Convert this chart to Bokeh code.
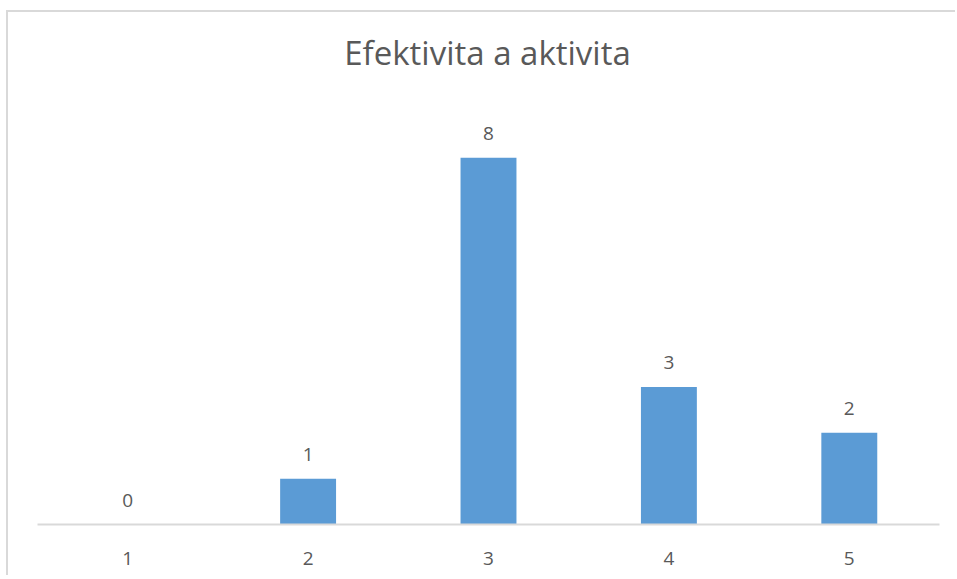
from bokeh.plotting import figure
from bokeh.models import ColumnDataSource, LabelSet, FactorRange, Range1d, Label
from bokeh.core.properties import value
from bokeh.embed import file_html
from bokeh.resources import INLINE

title_text = "Efektivita a aktivita"
categories = ["1", "2", "3", "4", "5"]
values = [0, 1, 8, 3, 2]
labels = [str(v) for v in values]

# the frame extends up to the top of the chart so the title can sit inside it
y_max = 10.95

src = ColumnDataSource(dict(cat=categories, val=values, lab=labels))

p = figure(
    width=949, height=565,
    x_range=FactorRange(*categories, range_padding=0),
    y_range=Range1d(0, y_max),
    output_backend="svg", toolbar_location=None,
    min_border_left=29, min_border_right=18,
    min_border_top=10, min_border_bottom=53,
)
p.styles = {"margin-left": "6px", "margin-top": "10px",
            "border-left": "2px solid #d9d9d9", "border-top": "2px solid #d9d9d9"}

p.vbar(x="cat", top="val", width=0.31, source=src,
       fill_color="#5b9bd5", line_color=None)

p.add_layout(LabelSet(x="cat", y="val", text="lab", source=src,
                      text_align="center", text_baseline="alphabetic",
                      y_offset=18, text_font=value("Open Sans"),
                      text_font_size="19px", text_color="#595959"))

# chart title, in screen units relative to the plot frame
p.add_layout(Label(x=450, y=472, x_units="screen", y_units="screen",
                   text=title_text, text_align="center",
                   text_baseline="alphabetic", text_font="Open Sans",
                   text_font_size="33px", text_color="#595959"))

p.yaxis.visible = False
p.xgrid.visible = False
p.ygrid.visible = False
p.outline_line_color = None

ax = p.xaxis[0]
ax.axis_line_color = "#d9d9d9"
ax.axis_line_width = 2
ax.major_tick_line_color = None
ax.minor_tick_line_color = None
ax.major_tick_out = 0
ax.major_tick_in = 0
ax.major_label_standoff = 27
ax.major_label_text_font = "Open Sans"
ax.major_label_text_font_size = "19px"
ax.major_label_text_color = "#595959"

open("out.html", "w").write(file_html(p, INLINE))
